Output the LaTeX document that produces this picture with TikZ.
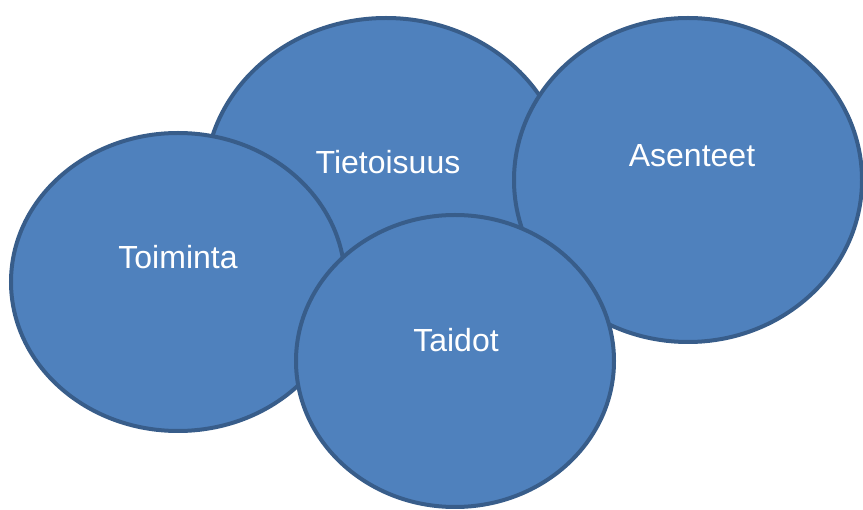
\documentclass[tikz,border=0pt]{standalone}
\usepackage{fontspec}
\setmainfont{Liberation Sans}
\usetikzlibrary{shapes.geometric}
\definecolor{fillblue}{HTML}{4F81BD}
\definecolor{edgeblue}{HTML}{385D8A}
\tikzset{
  blob/.style={ellipse, draw=edgeblue, fill=fillblue, line width=4pt, inner sep=0pt},
  lbl/.style={text=white, font=\fontsize{32}{38}\selectfont, inner sep=0pt}
}
\begin{document}
\begin{tikzpicture}[x=1pt,y=-1pt]
\useasboundingbox (0,0) rectangle (863,510);
\node[blob, minimum width=362pt, minimum height=330pt] (tiet) at (386,183) {};
\node[blob, minimum width=348pt, minimum height=324pt] (asen) at (688,180) {};
\node[blob, minimum width=334pt, minimum height=298pt] (toim) at (178,282) {};
\node[blob, minimum width=318pt, minimum height=292pt] (taid) at (455,361) {};
\node[lbl] (ltiet) at (388,162) {Tietoisuus};
\node[lbl] (lasen) at (692,156) {Asenteet};
\node[lbl] (ltoim) at (178,257) {Toiminta};
\node[lbl] (ltaid) at (456,340) {Taidot};
\end{tikzpicture}
\end{document}
